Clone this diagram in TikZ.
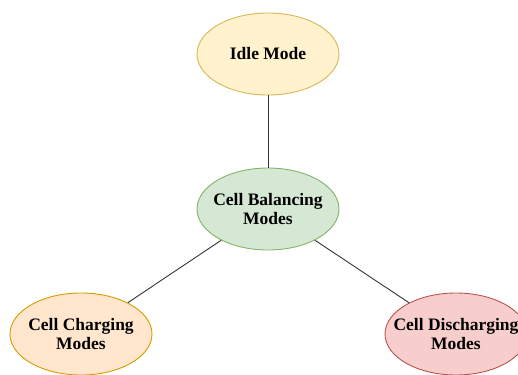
\documentclass[tikz,border=0pt]{standalone}
\usepackage{fontspec}
\setmainfont{Liberation Serif}
\usetikzlibrary{shapes.geometric}

\definecolor{idleFill}{HTML}{FFF2CC}
\definecolor{idleLine}{HTML}{D6B656}
\definecolor{balFill}{HTML}{D5E8D4}
\definecolor{balLine}{HTML}{82B366}
\definecolor{chgFill}{HTML}{FFE6CC}
\definecolor{chgLine}{HTML}{D79B00}
\definecolor{disFill}{HTML}{F8CECC}
\definecolor{disLine}{HTML}{B85450}

\tikzset{
  % fixed-size ellipse; the caption sits on top as a centred label
  mode/.style={ellipse, line width=0.9pt, minimum width=142pt, minimum height=82pt,
    inner sep=0pt, label={[align=center, inner sep=0pt,
      font=\fontsize{17.5}{19.5}\selectfont\bfseries]center:#1}},
  link/.style={draw=black!80, line width=0.9pt}
}

\begin{document}
\begin{tikzpicture}[x=1pt, y=-1pt]
  \useasboundingbox (0,0) rectangle (518,374);
  \clip (0,0) rectangle (518,374);

  \node[mode={Idle Mode}, fill=idleFill, draw=idleLine] (idle) at (268,54) {};
  \node[mode={Cell Balancing\\Modes}, fill=balFill, draw=balLine] (bal) at (268,209) {};
  \node[mode={Cell Charging\\Modes}, fill=chgFill, draw=chgLine] (chg) at (81,334) {};
  \node[mode={Cell Discharging\\Modes}, fill=disFill, draw=disLine] (dis) at (456,334) {};

  \draw[link] (idle) -- (bal);
  \draw[link] (bal) -- (chg);
  \draw[link] (bal) -- (dis);
\end{tikzpicture}
\end{document}
